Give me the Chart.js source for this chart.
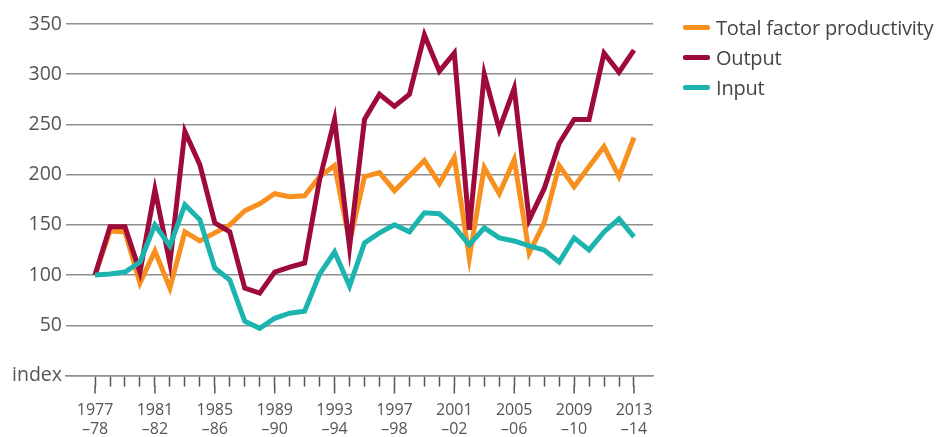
<!DOCTYPE html>
<html>
<head>
<meta charset="utf-8">
<script src="https://cdn.jsdelivr.net/npm/chart.js@4"></script>
<style>
  body { margin: 0; background: #fff; }
  #wrap { position: relative; width: 944px; height: 437px; }
  #legend { position: absolute; left: 683px; top: 12px; font-family: "Open Sans", sans-serif; font-size: 20px; color: #444; letter-spacing: -0.2px; }
  .item { height: 30px; display: flex; align-items: center; }
  .swatch { width: 27px; height: 5px; margin-right: 6px; border-radius: 2px; }
</style>
</head>
<body>
<div id="wrap">
  <canvas id="chart" width="944" height="437"></canvas>
  <div id="legend"></div>
</div>
<script>
// Seasons on the x axis
const seasons = [
    '1977–78', '1978–79', '1979–80', '1980–81', '1981–82', '1982–83', '1983–84', '1984–85',
    '1985–86', '1986–87', '1987–88', '1988–89', '1989–90', '1990–91', '1991–92', '1992–93',
    '1993–94', '1994–95', '1995–96', '1996–97', '1997–98', '1998–99', '1999–00', '2000–01',
    '2001–02', '2002–03', '2003–04', '2004–05', '2005–06', '2006–07', '2007–08', '2008–09',
    '2009–10', '2010–11', '2011–12', '2012–13', '2013–14'
];

// Labelled ticks (every fourth season), two lines each
const tickLabels = [
    ['1977', '–78'], ['1981', '–82'], ['1985', '–86'], ['1989', '–90'], ['1993', '–94'],
    ['1997', '–98'], ['2001', '–02'], ['2005', '–06'], ['2009', '–10'], ['2013', '–14']
];

// Index values (1977–78 = 100)
const tfp = [100, 144, 143, 92, 124, 87, 143, 134, 142, 150, 164, 171, 181, 178, 179, 198, 209, 133, 198,
    202, 184, 199, 214, 191, 217, 117, 207, 181, 215, 122, 152, 209, 188, 208, 228, 198, 237];
const output = [100, 148, 148, 103, 185, 112, 243, 210, 152, 143, 87, 82, 103, 108, 112, 195, 255, 128, 255,
    280, 268, 280, 339, 303, 321, 145, 300, 245, 286, 155, 186, 231, 255, 255, 321, 302, 324];
const input = [100, 101, 103, 113, 150, 129, 170, 155, 107, 95, 54, 47, 57, 62, 64, 101, 123, 89, 132,
    142, 150, 143, 162, 161, 148, 130, 147, 137, 134, 129, 125, 113, 137, 125, 143, 156, 138];

const seriesNames = ['Total factor productivity', 'Output', 'Input'];
const seriesColors = ['#f7901e', '#9e0b3b', '#1cb4ae'];
const yTicks = [0, 50, 100, 150, 200, 250, 300, 350];

const gridColor = '#8e8e8e';
const textColor = '#555';

// longer tick marks under the labelled seasons
const majorTicks = {
    id: 'majorTicks',
    afterDraw(chart) {
        const xs = chart.scales.x;
        const ctx = chart.ctx;
        const y0 = chart.chartArea.bottom;
        ctx.save();
        ctx.strokeStyle = textColor;
        ctx.lineWidth = 1.5;
        seasons.forEach((s, i) => {
            if (i % 4) return;
            const px = xs.getPixelForValue(i);
            ctx.beginPath();
            ctx.moveTo(px, y0 + 10);
            ctx.lineTo(px, y0 + 18);
            ctx.stroke();
        });
        ctx.restore();
    }
};

const toPoints = arr => arr.map((v, i) => ({ x: i, y: v }));

const datasets = [tfp, output, input].map((arr, k) => ({
    label: seriesNames[k],
    data: toPoints(arr),
    borderColor: seriesColors[k],
    backgroundColor: seriesColors[k],
    borderWidth: 5,
    pointRadius: 0,
    tension: 0,
    order: 2 - k
}));

new Chart(document.getElementById('chart'), {
    type: 'line',
    data: { datasets },
    plugins: [majorTicks],
    options: {
        responsive: false,
        animation: false,
        devicePixelRatio: 1,
        layout: { padding: { top: 24, right: 291, left: 0, bottom: 0 } },
        plugins: { legend: { display: false }, tooltip: { enabled: false } },
        scales: {
            x: {
                type: 'linear',
                min: -1.94,
                max: 37.27,
                afterBuildTicks: s => { s.ticks = seasons.map((_, i) => ({ value: i })); },
                afterFit: s => { s.height = 61.5; },
                ticks: {
                    autoSkip: false,
                    maxRotation: 0,
                    padding: 14,
                    color: textColor,
                    font: { family: 'Open Sans', size: 16, lineHeight: 1.2 },
                    callback: v => (v % 4 === 0 ? tickLabels[v / 4] : '')
                },
                grid: { drawOnChartArea: false, tickLength: 11, tickColor: textColor, tickWidth: 1.5 },
                border: { color: gridColor, width: 1.5 }
            },
            y: {
                min: 0,
                max: 350,
                afterBuildTicks: s => { s.ticks = yTicks.map(v => ({ value: v })); },
                afterFit: s => { s.width = 66; },
                ticks: {
                    padding: 4,
                    color: textColor,
                    font: { family: 'Open Sans', size: 19.5 },
                    callback: v => (v === 0 ? 'index' : v)
                },
                grid: { color: gridColor, lineWidth: 1.5, drawTicks: false },
                border: { display: false }
            }
        }
    }
});

// legend as plain html
const legend = document.getElementById('legend');
seriesNames.forEach((name, k) => {
    const row = document.createElement('div');
    row.className = 'item';
    row.innerHTML = `<span class="swatch" style="background:${seriesColors[k]}"></span>${name}`;
    legend.appendChild(row);
});
</script>
</body>
</html>
